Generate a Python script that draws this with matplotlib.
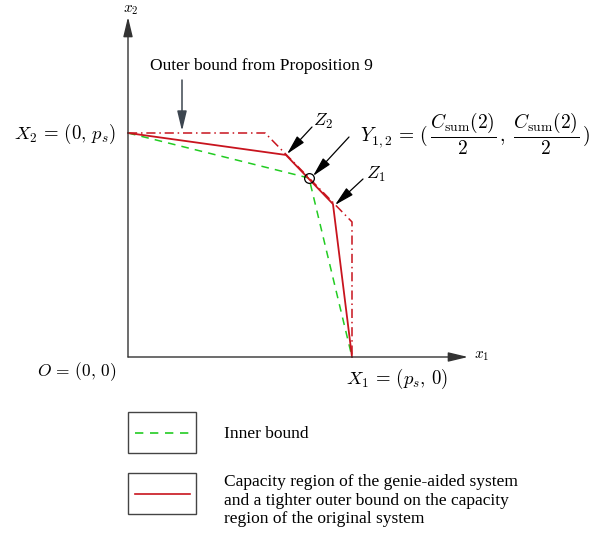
import matplotlib

matplotlib.use("Agg")
import matplotlib.pyplot as plt
from matplotlib.patches import Rectangle

plt.rcParams["font.family"] = ["Liberation Serif", "DejaVu Serif"]
plt.rcParams["mathtext.fontset"] = "cm"

# --- region corner points (units of p_s) ---
outer_x = [0.0, 0.612, 1.0, 1.0]
outer_y = [1.0, 1.0, 0.603, 0.0]
genie_x = [0.0, 0.705, 0.915, 1.0]
genie_y = [1.0, 0.902, 0.683, 0.0]
inner_x = [0.0, 0.808, 1.0]
inner_y = [1.0, 0.799, 0.0]
y12 = (0.808, 0.799)

RED = "#c8141e"
GREEN = "#22cc22"
AXC = "#333333"

# pixel -> data helper for layout only (origin at px (128,357), 224 px per p_s)
def P(px, py):
    return ((px - 128) / 224, (357 - py) / 224)


fig = plt.figure(figsize=(6.16, 5.34), dpi=100)
ax = fig.add_axes([0, 0, 1, 1])
ax.set_xlim(-128 / 224, (616 - 128) / 224)
ax.set_ylim((357 - 534) / 224, 357 / 224)
ax.axis("off")

head = "-|>,head_length=0.75,head_width=0.18"

# coordinate axes
ax.annotate("", xy=P(468, 357), xytext=P(128, 357),
            arrowprops=dict(arrowstyle=head, color=AXC, lw=1.0, mutation_scale=16,
                            shrinkA=0, shrinkB=0))
ax.annotate("", xy=P(128, 17), xytext=P(128, 357),
            arrowprops=dict(arrowstyle=head, color=AXC, lw=1.0, mutation_scale=16,
                            shrinkA=0, shrinkB=0))
ax.text(*P(474, 356), r"$x_1$", fontsize=11, ha="left", va="center")
ax.text(*P(131, 10), r"$x_2$", fontsize=11, ha="center", va="center")

# regions
ax.plot(outer_x, outer_y, color=RED, lw=1.1, ls=(0, (6, 2.5, 1, 2.5)))
ax.plot(inner_x, inner_y, color=GREEN, lw=1.1, ls=(0, (5, 4)))
ax.plot(genie_x, genie_y, color=RED, lw=1.3)
ax.plot([y12[0]], [y12[1]], "o", ms=7, mfc="none", mec="black", mew=0.9)

# point labels
ax.text(*P(14, 134), r"$X_2\,=\,(0,\,p_s)$", fontsize=13.5, ha="left", va="center")
ax.text(*P(37, 372), r"$O\,=\,(0,\,0)$", fontsize=12.5, ha="left", va="center")
ax.text(*P(346, 379), r"$X_1\,=\,(p_s,\,0)$", fontsize=13.5, ha="left", va="center")
ax.text(*P(360, 134),
        r"$Y_{1,2}\,=\,(\,\dfrac{C_{\rm sum}(2)}{2}\,,\;\dfrac{C_{\rm sum}(2)}{2}\,)$",
        fontsize=14, ha="left", va="center")
ax.text(*P(313, 121), r"$Z_2$", fontsize=13, ha="left", va="center")
ax.text(*P(366, 174), r"$Z_1$", fontsize=13, ha="left", va="center")

arrow = dict(arrowstyle=head, color="black", lw=0.9, mutation_scale=16,
             shrinkA=0, shrinkB=0)
ax.annotate("", xy=P(287, 154), xytext=P(312, 127), arrowprops=arrow)
ax.annotate("", xy=P(313, 176), xytext=P(349, 137), arrowprops=arrow)
ax.annotate("", xy=P(335, 205), xytext=P(363, 179), arrowprops=arrow)

ax.annotate("", xy=P(182, 131), xytext=P(182, 80),
            arrowprops=dict(arrowstyle=head, color="#3d4650", lw=1.1,
                            mutation_scale=16, shrinkA=0, shrinkB=0))
ax.text(*P(150, 66), "Outer bound from Proposition 9", fontsize=12.5,
        ha="left", va="center")

# legend boxes
for top, color, ls in [(412, GREEN, (0, (5, 4))), (473, RED, "-")]:
    x0, y0 = P(128, top + 41)
    ax.add_patch(Rectangle((x0, y0), 68 / 224, 41 / 224, fill=False,
                           ec="#444444", lw=1.0))
    xa, yl = P(135, top + 21)
    xb, _ = P(190, top + 21)
    ax.plot([xa, xb], [yl, yl], color=color, lw=1.2, ls=ls)

ax.text(*P(224, 434), "Inner bound", fontsize=12.5, ha="left", va="center")
ax.text(*P(224, 474),
        "Capacity region of the genie-aided system\n"
        "and a tighter outer bound on the capacity\n"
        "region of the original system",
        fontsize=12.5, ha="left", va="top", linespacing=1.22)

fig.savefig("out.png", dpi=100)
